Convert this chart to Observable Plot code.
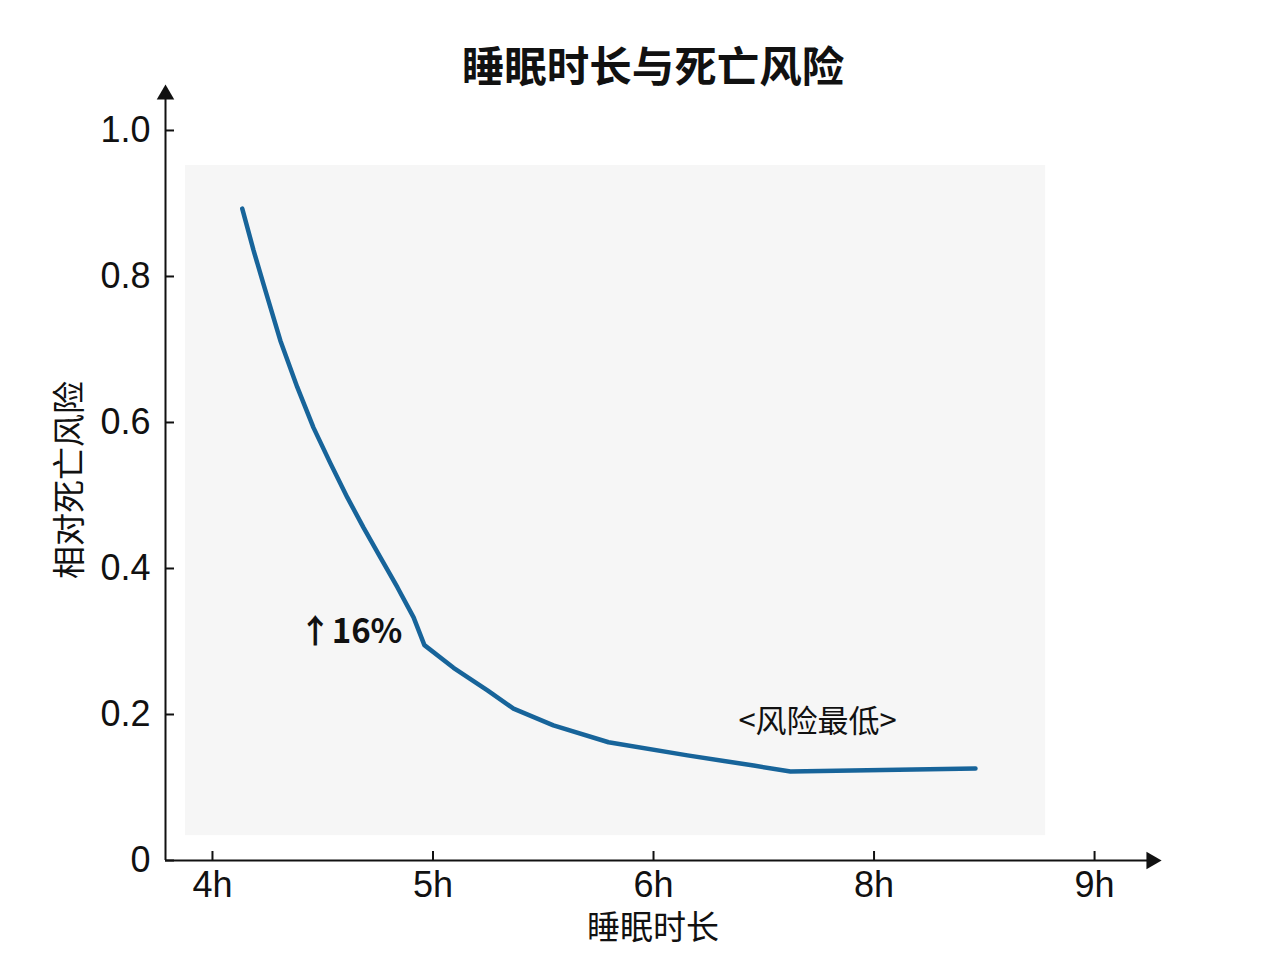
<!DOCTYPE html>
<html>
<head>
<meta charset="utf-8">
<script src="https://cdn.jsdelivr.net/npm/d3@7"></script>
<script src="https://cdn.jsdelivr.net/npm/@observablehq/plot@0.6"></script>
<style>
  html, body { margin: 0; padding: 0; background: #ffffff; }
  #chart svg { display: block; }
</style>
</head>
<body>
<div id="chart"></div>
<script>
// Tick positions on the x axis (evenly spaced) and their labels
const xTickPos = [4, 5, 6, 7, 8];
const xTickLabels = ["4h", "5h", "6h", "8h", "9h"];
const yTicks = [0, 0.2, 0.4, 0.6, 0.8, 1.0];
const yTickLabels = ["0", "0.2", "0.4", "0.6", "0.8", "1.0"];

// Curve (x in axis-position units, y relative risk)
const curveX = [4.135, 4.186, 4.231, 4.308, 4.385, 4.458, 4.535, 4.612, 4.685, 4.762, 4.839, 4.912, 4.961,
                5.093, 5.247, 5.365, 5.546, 5.796, 6.154, 6.454, 6.621, 7.460];
const curveY = [0.893, 0.836, 0.790, 0.712, 0.648, 0.593, 0.544, 0.497, 0.456, 0.415, 0.374, 0.333, 0.295,
                0.264, 0.233, 0.208, 0.185, 0.162, 0.144, 0.130, 0.122, 0.126];

// Annotations
const noteText = ["↑16%", "<风险最低>"];
const noteX = [4.626, 6.744];
const noteY = [0.312, 0.190];

// Shaded panel behind the curve
const panelX = [3.878, 7.778];
const panelY = [0.034, 0.952];

const xDomain = [3.787, 8.299];
const yDomain = [0, 1.0616];

const curve = curveX.map((x, i) => ({x, y: curveY[i]}));
const notes = noteText.map((t, i) => ({t, x: noteX[i], y: noteY[i]}));

const cjk = "'Noto Sans CJK SC', 'Noto Sans', sans-serif";
const latin = "'Liberation Sans', Arial, 'Noto Sans CJK SC', sans-serif";

const chart = Plot.plot({
  width: 1280,
  height: 960,
  marginLeft: 165,
  marginRight: 120,
  marginTop: 85,
  marginBottom: 100,
  style: {background: "#ffffff", fontFamily: latin, overflow: "visible"},
  x: {domain: xDomain, axis: null, label: null},
  y: {domain: yDomain, axis: null, label: null},
  marks: [
    Plot.rect([0], {x1: panelX[0], x2: panelX[1], y1: panelY[0], y2: panelY[1], fill: "#f6f6f6"}),
    // axes lines
    Plot.ruleY([0], {x1: xDomain[0], x2: xDomain[1] - 0.03, stroke: "#111", strokeWidth: 2}),
    Plot.ruleX([xDomain[0]], {y1: 0, y2: yDomain[1] - 0.015, stroke: "#111", strokeWidth: 2}),
    Plot.dot([0], {x: xDomain[1], y: 0, symbol: "triangle", r: 6.5, rotate: 90, dx: -9, fill: "#111", stroke: null}),
    Plot.dot([0], {x: xDomain[0], y: yDomain[1], symbol: "triangle", r: 6.5, dy: 9, fill: "#111", stroke: null}),
    // ticks and labels
    Plot.axisX({ticks: xTickPos, tickFormat: d => xTickLabels[xTickPos.indexOf(d)], tickSize: -9, label: null,
                tickPadding: 20, fontSize: 36, stroke: "#111", strokeWidth: 2, color: "#111"}),
    Plot.axisY({ticks: yTicks, tickFormat: d => yTickLabels[yTicks.indexOf(d)], tickSize: -9, label: null,
                tickPadding: 24, fontSize: 36, stroke: "#111", strokeWidth: 2, color: "#111"}),
    // curve
    Plot.line(curve, {x: "x", y: "y", stroke: "#17649a", strokeWidth: 4.5, strokeLinejoin: "round"}),
    // annotations
    Plot.text(notes.slice(0, 1), {x: "x", y: "y", text: "t", fontSize: 33, fontWeight: "bold",
                fontFamily: cjk, fill: "#111"}),
    Plot.text(notes.slice(1), {x: "x", y: "y", text: "t", fontSize: 31,
                fontFamily: cjk, fill: "#111"}),
    // title & axis labels
    Plot.text(["睡眠时长与死亡风险"], {frameAnchor: "top", dx: -10, dy: -17, fontSize: 42.5, fontWeight: "bold",
                fontFamily: cjk, fill: "#111", lineAnchor: "middle"}),
    Plot.text(["睡眠时长"], {frameAnchor: "bottom", dx: -10, dy: 68, fontSize: 33,
                fontFamily: cjk, fill: "#111", lineAnchor: "middle"}),
    Plot.text(["相对死亡风险"], {frameAnchor: "left", dx: -95, dy: 7, rotate: -90, fontSize: 33,
                fontFamily: cjk, fill: "#111", lineAnchor: "middle", textAnchor: "middle"})
  ]
});
document.getElementById("chart").appendChild(chart);
</script>
</body>
</html>
